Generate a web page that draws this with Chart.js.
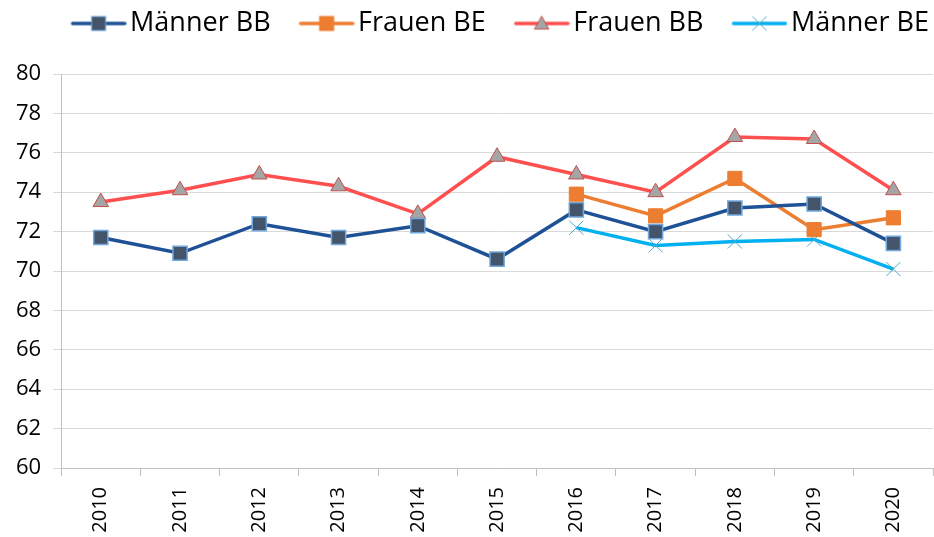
<!DOCTYPE html>
<html lang="de">
<head>
    <meta charset="UTF-8">
    <title>Lebenserwartung</title>
    <script src="https://cdn.jsdelivr.net/npm/chart.js"></script>
    <style>
        body { margin: 0; background: #fff; }
        #wrap { width: 934px; height: 537px; }
    </style>
</head>
<body>
    <div id="wrap"><canvas id="lineChart"></canvas></div>

    <script>
        const years = ['2010', '2011', '2012', '2013', '2014', '2015', '2016', '2017', '2018', '2019', '2020'];
        const maennerBB = [71.7, 70.9, 72.4, 71.7, 72.3, 70.6, 73.1, 72.0, 73.2, 73.4, 71.4];
        const frauenBE = [null, null, null, null, null, null, 73.9, 72.8, 74.7, 72.1, 72.7];
        const frauenBB = [73.5, 74.1, 74.9, 74.3, 72.9, 75.8, 74.9, 74.0, 76.8, 76.7, 74.1];
        const maennerBE = [null, null, null, null, null, null, 72.2, 71.3, 71.5, 71.6, 70.1];

        const fontFamily = "'Open Sans', 'Noto Sans', sans-serif";
        const boxW = 70;   // legend box width
        const shift = 10;  // icon overhang to the right, closer to the text

        // legend icon: short line with the marker in the middle (right aligned in the image)
        function legendIcon(ds) {
            const c = document.createElement('canvas');
            c.width = boxW + 2 * shift; c.height = 20;
            const ctx = c.getContext('2d');
            ctx.translate(c.width - 56, 0);
            ctx.strokeStyle = ds.borderColor;
            ctx.lineWidth = 3.5;
            ctx.lineCap = 'round';
            ctx.beginPath();
            ctx.moveTo(2, 10); ctx.lineTo(54, 10);
            ctx.stroke();
            const r = 7;
            ctx.fillStyle = ds.pointBackgroundColor;
            ctx.strokeStyle = ds.pointBorderColor;
            ctx.lineWidth = 1;
            if (ds.pointStyle === 'rect') {
                ctx.fillRect(28 - r, 10 - r, 2 * r, 2 * r);
                ctx.strokeRect(28 - r, 10 - r, 2 * r, 2 * r);
            } else if (ds.pointStyle === 'triangle') {
                ctx.beginPath();
                ctx.moveTo(28, 10 - r); ctx.lineTo(28 + r, 10 + r * 0.8); ctx.lineTo(28 - r, 10 + r * 0.8);
                ctx.closePath(); ctx.fill(); ctx.stroke();
            } else {
                ctx.beginPath();
                ctx.moveTo(28 - r, 10 - r); ctx.lineTo(28 + r, 10 + r);
                ctx.moveTo(28 + r, 10 - r); ctx.lineTo(28 - r, 10 + r);
                ctx.stroke();
            }
            return c;
        }

        const datasets = [
            {
                label: 'Männer BB', data: maennerBB,
                borderColor: '#1f5196', borderWidth: 3.5,
                pointStyle: 'rect', pointRadius: 10, pointHoverRadius: 10,
                pointBackgroundColor: '#44546a', pointBorderColor: '#6fa8dc', pointBorderWidth: 1.5
            },
            {
                label: 'Frauen BE', data: frauenBE,
                borderColor: '#ed7d31', borderWidth: 3.5,
                pointStyle: 'rect', pointRadius: 10, pointHoverRadius: 10,
                pointBackgroundColor: '#ed7d31', pointBorderColor: '#ed7d31', pointBorderWidth: 1
            },
            {
                label: 'Frauen BB', data: frauenBB,
                borderColor: '#ff5050', borderWidth: 3.5,
                pointStyle: 'triangle', pointRadius: 9, pointHoverRadius: 9,
                pointBackgroundColor: '#a5a5a5', pointBorderColor: '#c0504d', pointBorderWidth: 1
            },
            {
                label: 'Männer BE', data: maennerBE,
                borderColor: '#00b0f0', borderWidth: 3.5,
                pointStyle: 'crossRot', pointRadius: 10, pointHoverRadius: 10,
                pointBackgroundColor: '#4bacc6', pointBorderColor: '#4bacc6', pointBorderWidth: 1
            }
        ];

        // extra room between legend and plot
        const legendMargin = {
            id: 'legendMargin',
            beforeInit(chart) {
                const fit = chart.legend.fit;
                chart.legend.fit = function () {
                    fit.bind(chart.legend)();
                    this.height += 27;
                };
            }
        };

        new Chart(document.getElementById('lineChart'), {
            type: 'line',
            data: { labels: years, datasets: datasets },
            plugins: [legendMargin],
            options: {
                responsive: true,
                maintainAspectRatio: false,
                animation: false,
                layout: { autoPadding: false, padding: { left: 4, right: 1, top: 6, bottom: 0 } },
                plugins: {
                    legend: {
                        position: 'top',
                        align: 'end',
                        labels: {
                            usePointStyle: true,
                            pointStyleWidth: boxW,
                            padding: 4,
                            color: '#000',
                            font: { family: fontFamily, size: 27 },
                            generateLabels: chart => chart.data.datasets.map((ds, i) => ({
                                text: ds.label,
                                pointStyle: legendIcon(ds),
                                datasetIndex: i,
                                fontColor: '#000',
                                lineWidth: 0
                            }))
                        }
                    },
                    tooltip: { enabled: false }
                },
                scales: {
                    x: {
                        offset: true,
                        grid: { offset: true, drawOnChartArea: false, drawTicks: true, tickLength: 8, color: '#bfbfbf' },
                        border: { color: '#bfbfbf', width: 1 },
                        ticks: {
                            minRotation: 90, maxRotation: 90,
                            color: '#000', padding: 11,
                            font: { family: fontFamily, size: 20 }
                        },
                        afterFit(scale) {
                            scale.height = 69;
                            scale.paddingRight = 0;
                            scale.paddingLeft = 0;
                        }
                    },
                    y: {
                        min: 60, max: 80,
                        grid: { color: '#d9d9d9', tickLength: 8 },
                        border: { color: '#bfbfbf', width: 1 },
                        ticks: {
                            stepSize: 2,
                            color: '#000', padding: 12,
                            font: { family: fontFamily, size: 22 }
                        }
                    }
                }
            }
        });
    </script>
</body>
</html>
